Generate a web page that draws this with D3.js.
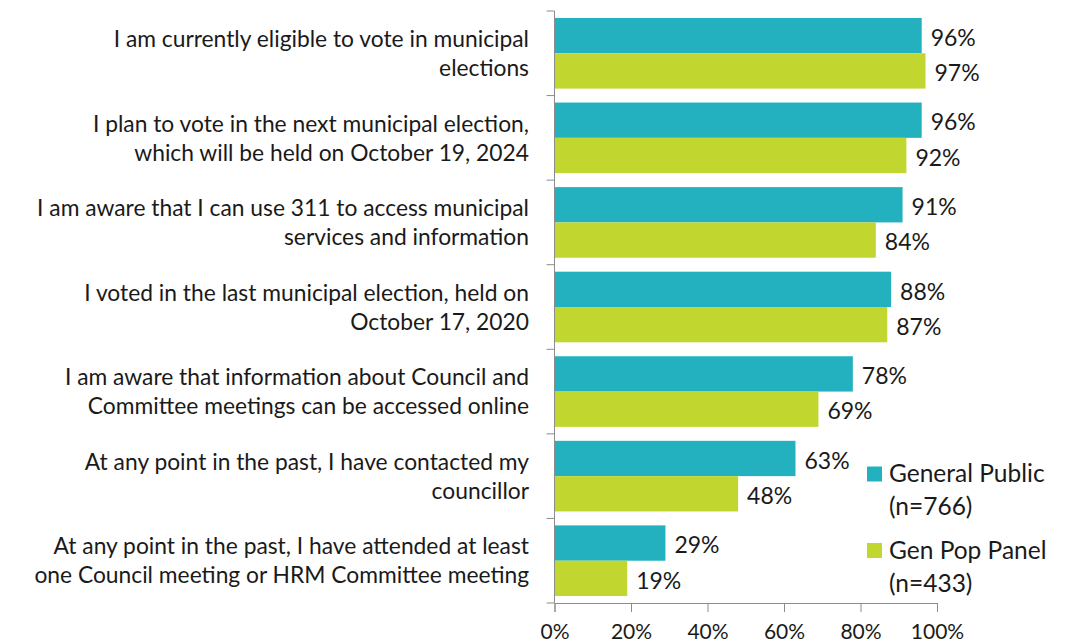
<!DOCTYPE html>
<html>
<head>
<meta charset="utf-8">
<script src="https://cdn.jsdelivr.net/npm/d3@7"></script>
<style>
  html, body { margin: 0; padding: 0; background: #fff; }
  svg text { font-family: Lato, "Open Sans", sans-serif; fill: #1a1a1a; }
</style>
</head>
<body>
<svg id="chart" width="1071" height="643"></svg>
<script>
// Statements (each split across two lines as displayed)
const categories = [
  ["I am currently eligible to vote in municipal", "elections"],
  ["I plan to vote in the next municipal election,", "which will be held on October 19, 2024"],
  ["I am aware that I can use 311 to access municipal", "services and information"],
  ["I voted in the last municipal election, held on", "October 17, 2020"],
  ["I am aware that information about Council and", "Committee meetings can be accessed online"],
  ["At any point in the past, I have contacted my", "councillor"],
  ["At any point in the past, I have attended at least", "one Council meeting or HRM Committee meeting"]
];
const generalPublic = [96, 96, 91, 88, 78, 63, 29];
const genPopPanel   = [97, 92, 84, 87, 69, 48, 19];
const seriesNames = [["General Public", "(n=766)"], ["Gen Pop Panel", "(n=433)"]];
const seriesColors = ["#24b1bf", "#c1d730"];
const xTicks = [0, 20, 40, 60, 80, 100];

const svg = d3.select("#chart");
const plotLeft = 554.5, plotRight = 937, plotTop = 11, plotBottom = 603;

const x = d3.scaleLinear().domain([0, 100]).range([plotLeft, plotRight]);
const y = d3.scaleBand().domain(d3.range(categories.length)).range([plotTop, plotBottom]).paddingInner(0.165).paddingOuter(0.0825);
const sub = d3.scaleBand().domain([0, 1]).range([0, y.bandwidth()]);

const series = [generalPublic, genPopPanel];

// Bars with value labels
const groups = svg.append("g").selectAll("g")
  .data(categories.map((c, i) => i))
  .join("g")
  .attr("transform", i => `translate(0,${y(i)})`);

series.forEach((vals, s) => {
  groups.append("rect")
    .attr("x", x(0))
    .attr("y", sub(s))
    .attr("width", i => x(vals[i]) - x(0))
    .attr("height", sub.bandwidth())
    .attr("fill", seriesColors[s]);
  groups.append("text")
    .attr("x", i => x(vals[i]) + 9)
    .attr("y", sub(s) + sub.bandwidth() / 2 + 2)
    .attr("dy", "0.36em")
    .attr("font-size", 23)
    .text(i => vals[i] + "%");
});

// Category axis (left) with tick marks between groups
const yBoundaries = d3.range(categories.length + 1).map(i => plotTop + i * (plotBottom - plotTop) / categories.length);
svg.append("line")
  .attr("x1", x(0)).attr("x2", x(0))
  .attr("y1", plotTop).attr("y2", plotBottom)
  .attr("stroke", "#8c8c8c").attr("stroke-width", 1);
svg.append("g").selectAll("line").data(yBoundaries).join("line")
  .attr("x1", x(0) - 8).attr("x2", x(0))
  .attr("y1", d => d).attr("y2", d => d)
  .attr("stroke", "#8c8c8c");

// Category labels
const labels = svg.append("g").selectAll("text")
  .data(categories.map((c, i) => i))
  .join("text")
  .attr("text-anchor", "end")
  .attr("font-size", 22.8);
labels.each(function(i) {
  const t = d3.select(this);
  const cy = y(i) + y.bandwidth() / 2;
  categories[i].forEach((line, k) => {
    t.append("tspan")
      .attr("x", 529)
      .attr("y", cy + (k === 0 ? -14.5 : 14.5))
      .attr("dy", "0.36em")
      .text(line);
  });
});

// Value axis (bottom)
const xAxis = d3.axisBottom(x).tickValues(xTicks).tickFormat(d => d + "%").tickSize(9).tickPadding(12);
const ax = svg.append("g").attr("transform", `translate(0,${plotBottom})`).call(xAxis);
ax.select(".domain").attr("stroke", "#8c8c8c");
ax.selectAll(".tick line").attr("stroke", "#8c8c8c");
ax.selectAll(".tick text").attr("font-size", 21).attr("font-family", "Lato, 'Open Sans', sans-serif").attr("fill", "#1a1a1a");

// Legend
const legend = svg.append("g");
seriesNames.forEach((nm, s) => {
  const ly = 466.5 + s * 76.5;
  legend.append("rect")
    .attr("x", 867).attr("y", ly)
    .attr("width", 15).attr("height", 15)
    .attr("fill", seriesColors[s]);
  nm.forEach((line, k) => {
    legend.append("text")
      .attr("x", 889)
      .attr("y", ly + 7 + k * 33)
      .attr("dy", "0.36em")
      .attr("font-size", 24.5)
      .text(line);
  });
});
</script>
</body>
</html>
